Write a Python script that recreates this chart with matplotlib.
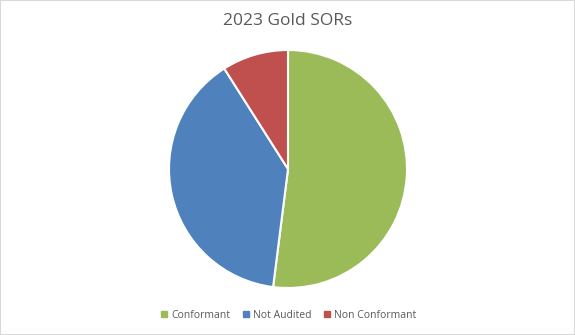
import matplotlib
matplotlib.use("Agg")
import matplotlib.pyplot as plt
from matplotlib.patches import Rectangle
from matplotlib.lines import Line2D

labels = ["Conformant", "Not Audited", "Non Conformant"]
values = [52, 39, 9]
colors = ["#9BBB59", "#4F81BD", "#C0504D"]
title = "2023 Gold SORs"

plt.rcParams['font.family'] = ['Open Sans', 'DejaVu Sans']

fig = plt.figure(figsize=(5.75, 3.35), dpi=100)
fig.patch.set_facecolor("white")

cx, cy, r = 288, 169, 119
W, H = 575, 335
ax = fig.add_axes([(cx - r) / W, (H - cy - r) / H, 2 * r / W, 2 * r / H])
ax.pie(values, colors=colors, startangle=90, counterclock=False, radius=1,
       wedgeprops=dict(edgecolor="white", linewidth=1.5))
ax.set_xlim(-1.0, 1.0)
ax.set_ylim(-1.0, 1.0)
ax.set_aspect("equal")
ax.axis("off")

fig.text(0.5, 1 - 21 / H, title, ha="center", va="center", fontsize=12.5, color="#595959")

handles = [Line2D([0], [0], marker="s", linestyle="none", markersize=4.5,
                  markerfacecolor=c, markeredgecolor=c) for c in colors]
fig.legend(handles, labels, loc="center", bbox_to_anchor=(0.5, 1 - 315 / H), ncol=3,
           frameon=False, fontsize=7.5, labelcolor="#595959", handletextpad=0.2,
           columnspacing=1.0, handlelength=1.0)

fig.add_artist(Rectangle((0, 0), 1, 1, transform=fig.transFigure, fill=False,
                         edgecolor="#D9D9D9", linewidth=1.5))

fig.savefig("out.png", dpi=100)
